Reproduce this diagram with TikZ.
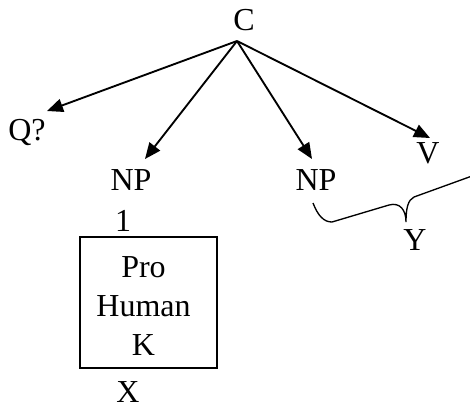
\documentclass[tikz,border=0pt]{standalone}
\usepackage{fontspec}
\setmainfont{Liberation Serif}
\usetikzlibrary{arrows.meta}
\begin{document}
\begin{tikzpicture}[x=0.75pt,y=-0.75pt,
  lbl/.style={inner sep=0pt,font=\fontsize{24}{29}\selectfont},
  arr/.style={line width=1.4pt,-{Triangle[length=12pt,width=10pt]}},
  boxst/.style={draw,line width=0.8pt,minimum width=102.75pt,minimum height=98.25pt,inner sep=0pt},
  bracest/.style={line width=1pt}]
\useasboundingbox (0,0) rectangle (470,408);
\node[lbl] (C) at (244,20) {C};
\node[lbl] (Q) at (27,132) {Q?};
\node[lbl] (NPa) at (131,180) {NP};
\node[lbl] (NPb) at (316,180) {NP};
\node[lbl] (V) at (428,153) {V};
\node[lbl] (one) at (123,221) {1};
\node[boxst] (box) at (148.5,302.5) {};
\node[lbl,align=center] (boxtext) at (143.5,306) {Pro\\Human\\K};
\node[lbl] (X) at (128,392) {X};
\node[lbl] (Y) at (415,240) {Y};
\coordinate (root) at (237,41);
\coordinate (tQ) at (47,111);
\coordinate (tNPa) at (145,159);
\coordinate (tNPb) at (312,159);
\coordinate (tV) at (430,138);
\draw[arr] (root) -- (tQ);
\draw[arr] (root) -- (tNPa);
\draw[arr] (root) -- (tNPb);
\draw[arr] (root) -- (tV);
\draw[bracest] (313,203) .. controls (318,216) and (324,222) .. (332,222) -- (389,205) .. controls (400,202) and (406,210) .. (406,222) .. controls (406,208) and (408,200) .. (414,197) -- (472,176);
\end{tikzpicture}
\end{document}
